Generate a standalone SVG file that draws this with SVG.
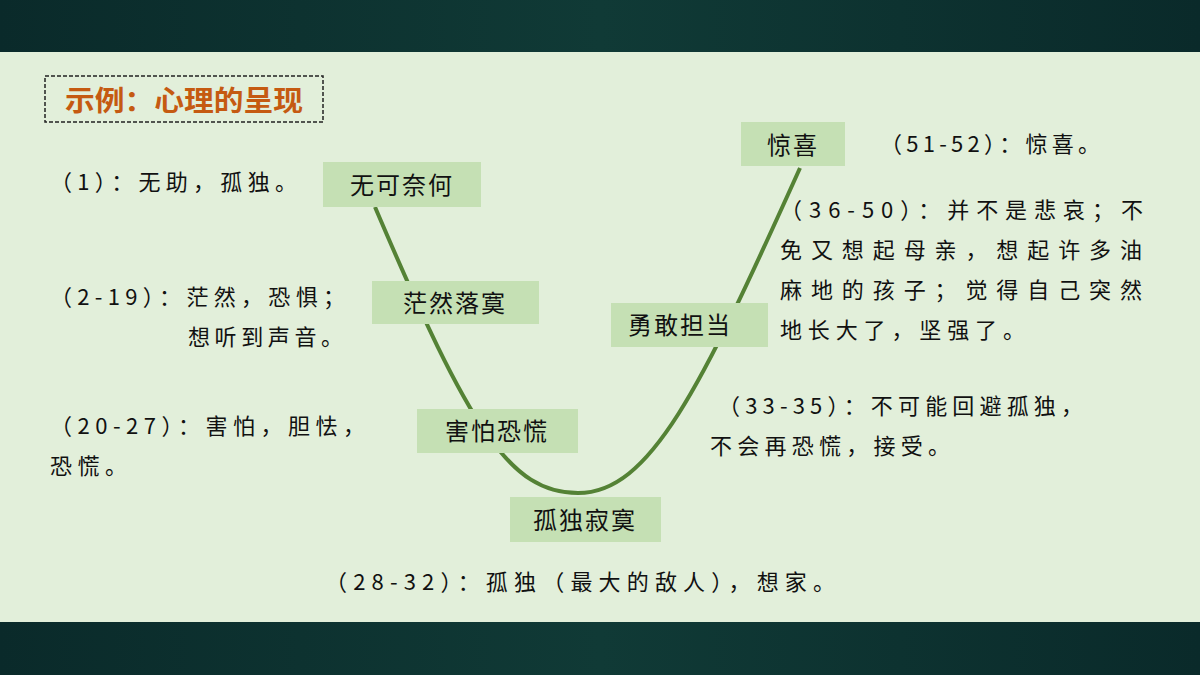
<svg xmlns="http://www.w3.org/2000/svg" width="1200" height="675" viewBox="0 0 1200 675">
<defs>
<linearGradient id="bar" x1="0" y1="0" x2="1" y2="0"><stop offset="0" stop-color="#0a2a2a"/><stop offset="0.5" stop-color="#103a36"/><stop offset="1" stop-color="#0a2a2a"/></linearGradient>
<style>
.box{fill:#c5e0b4}
.bt{font-family:"Noto Sans CJK SC",sans-serif;font-size:24px;fill:#111;text-anchor:middle;letter-spacing:2px}
.t{font-family:"Noto Sans CJK SC",sans-serif;font-size:22px;fill:#111}
</style>
</defs>
<rect width="1200" height="675" fill="#e2efda"/>
<rect width="1200" height="52" fill="url(#bar)"/>
<rect y="622" width="1200" height="53" fill="url(#bar)"/>
<g id="title">
<rect x="45" y="76" width="278" height="46" fill="none" stroke="#222" stroke-width="1.5" stroke-dasharray="4,2"/>
<text x="65" y="111" font-family="Noto Sans CJK SC,sans-serif" font-size="28" font-weight="bold" fill="#c55a11" textLength="238" lengthAdjust="spacingAndGlyphs">示例：心理的呈现</text>
</g>
<g id="connectors">
<path d="M375,207 C470,430 510,493 578,493 C650,493 700,390 800,168" fill="none" stroke="#548235" stroke-width="4"/>
</g>
<g id="n1"><rect class="box" x="323" y="162" width="158" height="45"/><text class="bt" x="402" y="194">无可奈何</text></g>
<g id="n2"><rect class="box" x="372" y="281" width="167" height="43"/><text class="bt" x="455" y="312">茫然落寞</text></g>
<g id="n3"><rect class="box" x="417" y="409" width="161" height="44"/><text class="bt" x="497" y="440">害怕恐慌</text></g>
<g id="n4"><rect class="box" x="510" y="497" width="151" height="45"/><text class="bt" x="585" y="529">孤独寂寞</text></g>
<g id="n5"><rect class="box" x="611" y="303" width="157" height="44"/><text class="bt" x="680" y="334">勇敢担当</text></g>
<g id="n6"><rect class="box" x="741" y="122" width="104" height="44"/><text class="bt" x="793" y="154">惊喜</text></g>
<g id="labels">
<text class="t" x="50" y="190" textLength="247">（1）：无助，孤独。</text>
<text class="t" x="50" y="305" textLength="295">（2-19）：茫然，恐惧；</text>
<text class="t" x="188" y="345" textLength="155">想听到声音。</text>
<text class="t" x="50" y="434" textLength="315">（20-27）：害怕，胆怯，</text>
<text class="t" x="50" y="474" textLength="77">恐慌。</text>
<text class="t" x="325" y="590" textLength="510">（28-32）：孤独（最大的敌人），想家。</text>
<text class="t" x="718" y="414" textLength="365">（33-35）：不可能回避孤独，</text>
<text class="t" x="710" y="454" textLength="240">不会再恐慌，接受。</text>
<text class="t" x="780" y="218" textLength="363">（36-50）：并不是悲哀；不</text>
<text class="t" x="780" y="258" textLength="362">免又想起母亲，想起许多油</text>
<text class="t" x="780" y="298" textLength="362">麻地的孩子；觉得自己突然</text>
<text class="t" x="780" y="338" textLength="245">地长大了，坚强了。</text>
<text class="t" x="880" y="152" textLength="220">（51-52）：惊喜。</text>
</g>
</svg>
